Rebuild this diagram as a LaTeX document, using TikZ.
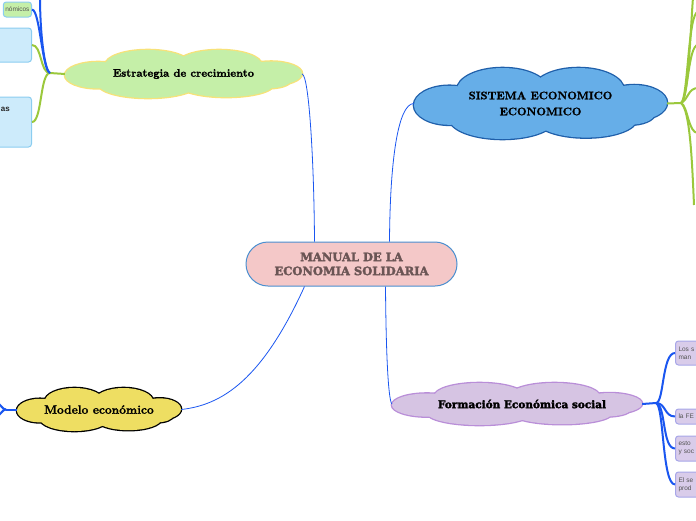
\documentclass[tikz,border=0pt]{standalone}
\usepackage{fontspec}
\newfontfamily\slabfont{DejaVu Serif}[BoldFeatures={FakeBold=2.5}]
\newfontfamily\lmheavy{Latin Modern Roman}[BoldFeatures={FakeBold=1.5}]
\newfontfamily\boxfont{Liberation Sans}
\definecolor{cpink}{HTML}{F4C8C8}
\definecolor{cpinkb}{HTML}{4A8FD0}
\definecolor{ctext}{HTML}{6B5555}
\definecolor{cgreen}{HTML}{C5EFA8}
\definecolor{cyellowb}{HTML}{F7E27A}
\definecolor{cblue}{HTML}{66AEE8}
\definecolor{cblueb}{HTML}{1F5FAA}
\definecolor{clav}{HTML}{D6C4E3}
\definecolor{clavb}{HTML}{B98ED8}
\definecolor{cyel}{HTML}{EEDE62}
\definecolor{lblue}{HTML}{1A56F0}
\definecolor{lgreen}{HTML}{9BC83C}
\definecolor{boxlb}{HTML}{CDEBFB}
\definecolor{boxlbb}{HTML}{8BCDF0}
\definecolor{boxlav}{HTML}{D9CCEA}
\definecolor{boxlavb}{HTML}{A7A6E8}
\definecolor{boxtext}{HTML}{555555}
\newcommand{\cloudbg}[6]{%
  \begin{scope}[shift={(#1,#2)}, xscale=#3, yscale=#4]
    \foreach \cu/\cv/\ru/\rv in {-0.72/0.05/0.28/0.55, -0.3/-0.38/0.36/0.62, 0.3/-0.38/0.36/0.62, 0.74/-0.02/0.26/0.5, -0.3/0.42/0.42/0.58, 0.36/0.44/0.4/0.52, 0.7/0.3/0.2/0.3}
      {\draw[draw=#6, line width=2.6pt] (\cu,\cv) ellipse [x radius=\ru, y radius=\rv];}
    \foreach \cu/\cv/\ru/\rv in {-0.72/0.05/0.28/0.55, -0.3/-0.38/0.36/0.62, 0.3/-0.38/0.36/0.62, 0.74/-0.02/0.26/0.5, -0.3/0.42/0.42/0.58, 0.36/0.44/0.4/0.52, 0.7/0.3/0.2/0.3, 0/0/0.75/0.6}
      {\fill[#5] (\cu,\cv) ellipse [x radius=\ru, y radius=\rv];}
  \end{scope}}
\tikzset{
  cloudtext/.style={rectangle, inner sep=0pt},
  mainlink/.style={draw=lblue, line width=0.8pt},
  bluelink/.style={draw=lblue, line width=2pt},
  greenlink/.style={draw=lgreen, line width=2pt},
  subbox/.style={rectangle, rounded corners=3pt, line width=1pt, inner sep=2pt, font=\boxfont\fontsize{6.5}{8}\selectfont, text=boxtext, align=left},
  rbox/.style={subbox, draw=boxlavb, fill=boxlav, anchor=west, text width=40pt, inner xsep=3pt},
}
\begin{document}
\begin{tikzpicture}[x=1pt,y=-1pt]
\useasboundingbox (0,0) rectangle (696,520);
\clip (0,0) rectangle (696,520);
% central
\node[draw=cpinkb, fill=cpink, line width=1pt, rounded corners=22pt, minimum width=211pt, minimum height=44pt, align=center, text=ctext, font=\slabfont\bfseries\fontsize{11.5}{14}\selectfont] (c) at (351.5,264) {MANUAL DE LA\\ECONOMIA SOLIDARIA};
% clouds
\cloudbg{183.5}{74}{118.5}{24}{cgreen}{cyellowb}
\node[cloudtext, minimum width=237pt, minimum height=48pt, font=\lmheavy\bfseries\fontsize{11}{13}\selectfont] (e) at (183.5,74) {Estrategia de crecimiento};
\cloudbg{540.5}{103.5}{126.5}{35.5}{cblue}{cblueb}
\node[cloudtext, minimum width=253pt, minimum height=71pt, align=center, font=\lmheavy\bfseries\fontsize{11}{16}\selectfont] (s) at (540.5,103.5) {SISTEMA ECONOMICO\\ECONOMICO};
\cloudbg{517}{404}{125}{21}{clav}{clavb}
\node[cloudtext, minimum width=250pt, minimum height=42pt, font=\slabfont\bfseries\fontsize{10.5}{13}\selectfont] (f) at (517,404) {\hspace*{10pt}Formación Económica social};
\cloudbg{99}{409.5}{82}{21.5}{cyel}{black}
\node[cloudtext, minimum width=164pt, minimum height=43pt, font=\lmheavy\bfseries\fontsize{12}{14}\selectfont] (m) at (99,409.5) {Modelo económico};
% main links
\draw[mainlink] ([xshift=-37pt]c.north) .. controls (314,160) and (309,76) .. (e.east);
\draw[mainlink] ([xshift=38pt]c.north) .. controls (390,160) and (398,104) .. (s.west);
\draw[mainlink] ([xshift=34pt]c.south) .. controls (386,350) and (388,398) .. (f.west);
\draw[mainlink] ([xshift=-47pt]c.south) .. controls (262,380) and (222,405) .. (m.east);
% Estrategia children
\node[subbox, draw=boxlbb, fill=cgreen, anchor=east, minimum height=15pt] (g1) at (32,9.5) {nómicos};
\node[subbox, draw=boxlbb, fill=boxlb, anchor=east, minimum width=92pt, minimum height=34pt] (b1) at (32,45) {};
\node[subbox, draw=boxlbb, fill=boxlb, anchor=east, minimum width=92pt, minimum height=50pt] (b2) at (32,122) {};
\node[anchor=east, inner sep=0pt, font=\boxfont\bfseries\fontsize{8}{9}\selectfont, text=black!85] (b2t) at (10,109) {as};
\coordinate (ej) at (50,73);
\coordinate (etop) at (40,-3);
\draw[greenlink] (e.west) -- (ej);
\draw[greenlink] (ej) .. controls (40,73) and (42,45) .. (b1.east);
\draw[greenlink] (ej) .. controls (40,73) and (42,122) .. (b2.east);
\draw[bluelink] (ej) .. controls (42,70) and (40,10) .. (g1.east);
\draw[bluelink] (ej) .. controls (44,70) and (40,30) .. (etop);
% Sistema children
\coordinate (sj) at (681,103);
\coordinate (s1) at (693,-3);
\coordinate (s2) at (698,12);
\coordinate (s3) at (698,45);
\coordinate (s4) at (698,88);
\coordinate (s5) at (698,133);
\coordinate (s6) at (694,205);
\draw[greenlink] (s.east) -- (sj);
\draw[greenlink] (sj) .. controls (688,100) and (690,40) .. (s1);
\draw[greenlink] (sj) .. controls (688,100) and (688,12) .. (s2);
\draw[greenlink] (sj) .. controls (688,100) and (688,45) .. (s3);
\draw[greenlink] (sj) .. controls (688,100) and (688,88) .. (s4);
\draw[greenlink] (sj) .. controls (688,106) and (688,133) .. (s5);
\draw[greenlink] (sj) .. controls (690,110) and (692,160) .. (s6);
% Formacion children
\node[rbox, minimum height=24pt] (f1) at (675,353) {Los s\\man};
\node[rbox, minimum height=15pt] (f2) at (675,416.5) {la FE};
\node[rbox, minimum height=25pt] (f3) at (675,448.5) {esto\\y soc};
\node[rbox, minimum height=25pt] (f4) at (675,484.5) {El se\\prod};
\coordinate (fj) at (656,403);
\draw[bluelink] (f.east) -- (fj);
\draw[bluelink] (fj) .. controls (664,403) and (662,353) .. (f1.west);
\draw[bluelink] (fj) .. controls (666,403) and (664,416.5) .. (f2.west);
\draw[bluelink] (fj) .. controls (666,405) and (662,448.5) .. (f3.west);
\draw[bluelink] (fj) .. controls (664,405) and (662,484.5) .. (f4.west);
% Modelo left
\coordinate (mj) at (6,409.5);
\coordinate (m1) at (-3,403);
\coordinate (m2) at (-3,416);
\draw[bluelink] (m.west) -- (mj);
\draw[bluelink] (mj) .. controls (2,409.5) and (1,404) .. (m1);
\draw[bluelink] (mj) .. controls (2,409.5) and (1,415) .. (m2);
\end{tikzpicture}
\end{document}
